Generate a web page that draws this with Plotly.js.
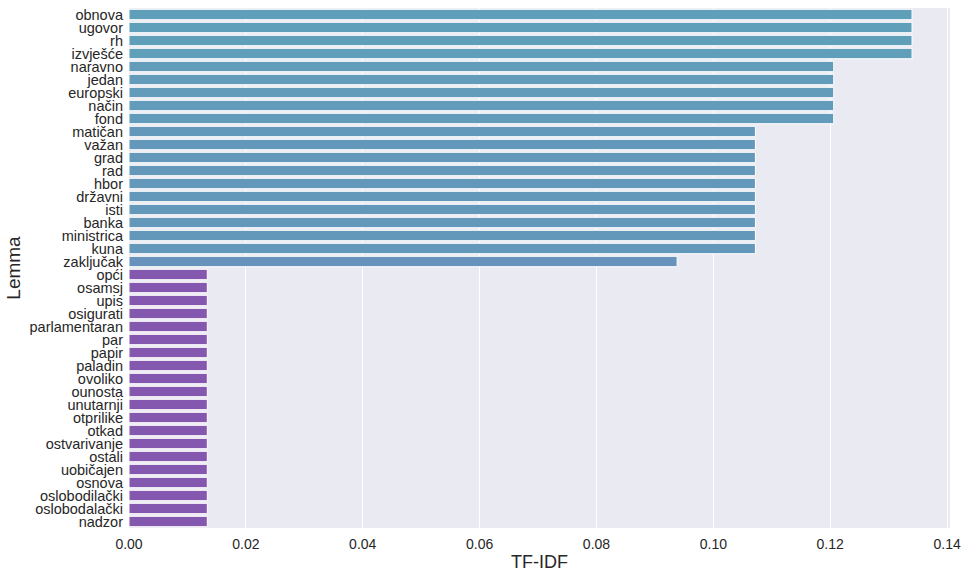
<!DOCTYPE html>
<html>
<head>
<meta charset="utf-8">
<script src="https://cdn.plot.ly/plotly-3.0.1.min.js"></script>
<style>html,body{margin:0;padding:0;background:#fff;}#chart{width:978px;height:574px;}</style>
</head>
<body>
<div id="chart"></div>
<script>
const lemmas = ["obnova","ugovor","rh","izvješće","naravno","jedan","europski","način","fond","matičan","važan","grad","rad","hbor","državni","isti","banka","ministrica","kuna","zaključak","opći","osamsj","upis","osigurati","parlamentaran","par","papir","paladin","ovoliko","ounosta","unutarnji","otprilike","otkad","ostvarivanje","ostali","uobičajen","osnova","oslobodilački","oslobodalački","nadzor"];
const tfidf = [0.134,0.134,0.134,0.134,0.1206,0.1206,0.1206,0.1206,0.1206,0.1072,0.1072,0.1072,0.1072,0.1072,0.1072,0.1072,0.1072,0.1072,0.1072,0.0938,0.0134,0.0134,0.0134,0.0134,0.0134,0.0134,0.0134,0.0134,0.0134,0.0134,0.0134,0.0134,0.0134,0.0134,0.0134,0.0134,0.0134,0.0134,0.0134,0.0134];
const tickVals = [0,0.02,0.04,0.06,0.08,0.10,0.12,0.14];
const tickText = ["0.00","0.02","0.04","0.06","0.08","0.10","0.12","0.14"];
const valueColors = {"0.134":"#609fba","0.1206":"#629cba","0.1072":"#6498ba","0.0938":"#6692bb","0.0134":"#8458ae"};
const colors = tfidf.map(v => valueColors[String(v)]);

const trace = {
  type: "bar",
  orientation: "h",
  x: tfidf,
  y: lemmas,
  marker: {color: colors, line: {color: "#ffffff", width: 1}},
  width: 0.8,
  hoverinfo: "x+y"
};
const layout = {
  width: 978, height: 574,
  margin: {l: 129, r: 28, t: 8, b: 46},
  paper_bgcolor: "#ffffff",
  plot_bgcolor: "#eaeaf2",
  font: {family: "Liberation Sans, Arial, sans-serif", color: "#262626", size: 14},
  showlegend: false,
  xaxis: {
    range: [0, 0.1405],
    tickmode: "array", tickvals: tickVals, ticktext: tickText,
    showgrid: true, gridcolor: "#ffffff", gridwidth: 1,
    zeroline: false, showline: false,
    ticks: "", ticklen: 0,
    ticklabelstandoff: 6,
    tickfont: {size: 14, color: "#262626"},
    title: {text: "TF-IDF", font: {size: 18, color: "#262626"}, standoff: 4}
  },
  yaxis: {
    type: "category",
    categoryorder: "array", categoryarray: lemmas,
    tickmode: "array", tickvals: lemmas, ticktext: lemmas,
    range: [39.5, -0.5],
    showgrid: false, zeroline: false, showline: false,
    ticks: "", ticklen: 0,
    ticklabelstandoff: 5,
    tickfont: {size: 14.5, color: "#262626"},
    title: {text: "Lemma", font: {size: 19, color: "#262626"}, standoff: 3}
  },
  bargap: 0.2
};
Plotly.newPlot("chart", [trace], layout, {staticPlot: true, displayModeBar: false});
</script>
</body>
</html>
